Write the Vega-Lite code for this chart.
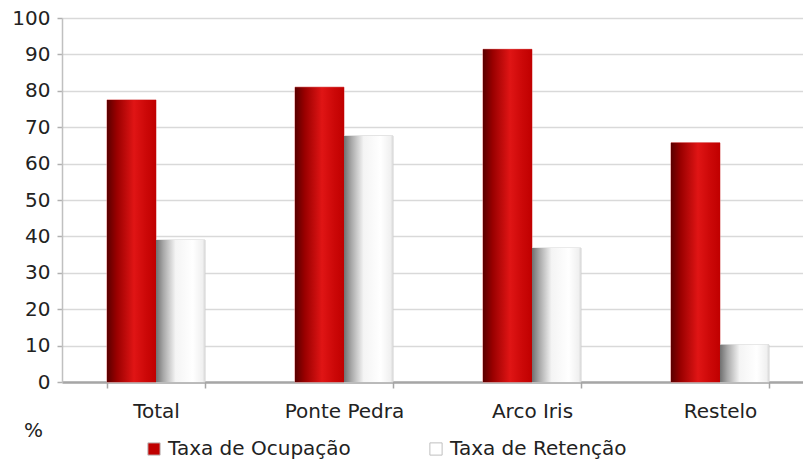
{
  "$schema": "https://vega.github.io/schema/vega-lite/v6.json",
  "autosize": {"type": "none"},
  "padding": {"left": 62, "top": 18, "right": -11, "bottom": 83},
  "width": 752,
  "height": 364,
  "background": "white",
  "data": {
    "values": [
      {"local": "Total", "serie": "Taxa de Ocupação", "valor": 77.5},
      {"local": "Total", "serie": "Taxa de Retenção", "valor": 39},
      {"local": "Ponte Pedra", "serie": "Taxa de Ocupação", "valor": 81},
      {"local": "Ponte Pedra", "serie": "Taxa de Retenção", "valor": 67.6},
      {"local": "Arco Iris", "serie": "Taxa de Ocupação", "valor": 91.4},
      {"local": "Arco Iris", "serie": "Taxa de Retenção", "valor": 36.8},
      {"local": "Restelo", "serie": "Taxa de Ocupação", "valor": 65.7},
      {"local": "Restelo", "serie": "Taxa de Retenção", "valor": 10.2}
    ]
  },
  "encoding": {
    "x": {
      "field": "local", "type": "nominal", "sort": null,
      "scale": {"paddingInner": 0.4787, "paddingOuter": 0.2394},
      "axis": {
        "title": null, "labelAngle": 0, "labelFontSize": 20, "labelFont": "DejaVu Sans",
        "labelColor": "#222", "labelPadding": 13, "tickBand": "extent", "tickSize": 6,
        "tickColor": "#a6a6a6", "tickWidth": 1.5, "domainColor": "#a6a6a6", "domainWidth": 2.5,
        "grid": false
      }
    },
    "xOffset": {"field": "serie", "type": "nominal", "sort": ["Taxa de Ocupação", "Taxa de Retenção"]},
    "y": {
      "field": "valor", "type": "quantitative",
      "scale": {"domain": [0, 100]},
      "axis": {
        "title": "%", "titleAngle": 0, "titleX": -29, "titleY": 412, "titleAlign": "center",
        "titleBaseline": "middle", "titleFontSize": 20, "titleFontWeight": "normal",
        "titleFont": "DejaVu Sans", "titleColor": "#222",
        "values": [0, 10, 20, 30, 40, 50, 60, 70, 80, 90, 100],
        "labelFontSize": 20, "labelFont": "DejaVu Sans", "labelColor": "#222",
        "labelPadding": 7, "tickSize": 5, "tickColor": "#b0b0b0", "tickWidth": 1.5,
        "domainColor": "#c0c0c0", "domainWidth": 1.5,
        "gridColor": "#d9d9d9", "gridWidth": 1.5
      }
    }
  },
  "layer": [
    {
      "mark": {"type": "bar", "strokeWidth": 1},
      "encoding": {
        "color": {
          "field": "serie", "type": "nominal",
          "scale": {"domain": ["Taxa de Ocupação", "Taxa de Retenção"], "range": ["#C00000", "#ffffff"]},
          "legend": {
            "title": null, "orient": "none", "legendX": 82, "legendY": 421, "direction": "horizontal",
            "symbolType": "square", "symbolSize": 150, "symbolStrokeColor": "#bfbfbf",
            "symbolStrokeWidth": 1, "labelFontSize": 20, "labelFont": "DejaVu Sans",
            "labelColor": "#222", "columnPadding": 75, "labelOffset": 4,
            "labelLimit": 300
          }
        },
        "stroke": {
          "condition": {"test": "datum.serie == 'Taxa de Ocupação'", "value": "#e08080"},
          "value": "#d0d0d0"
        }
      }
    },
    {
      "mark": {"type": "bar"},
      "encoding": {
        "color": {
          "condition": {
            "test": "datum.serie == 'Taxa de Ocupação'",
            "value": {
              "gradient": "linear", "x1": 0, "x2": 1, "y1": 0, "y2": 0,
              "stops": [
                {"offset": 0, "color": "#5a0000"},
                {"offset": 0.2, "color": "#9a0000"},
                {"offset": 0.55, "color": "#e01515"},
                {"offset": 0.8, "color": "#cc0808"},
                {"offset": 1, "color": "#c00000"}
              ]
            }
          },
          "value": {
            "gradient": "linear", "x1": 0, "x2": 1, "y1": 0, "y2": 0,
            "stops": [
              {"offset": 0, "color": "#707070"},
              {"offset": 0.15, "color": "#a8a8a8"},
              {"offset": 0.4, "color": "#f4f4f4"},
              {"offset": 0.75, "color": "#ffffff"},
              {"offset": 0.95, "color": "#f0f0f0"},
              {"offset": 1, "color": "#d8d8d8"}
            ]
          }
        }
      }
    }
  ]
}
